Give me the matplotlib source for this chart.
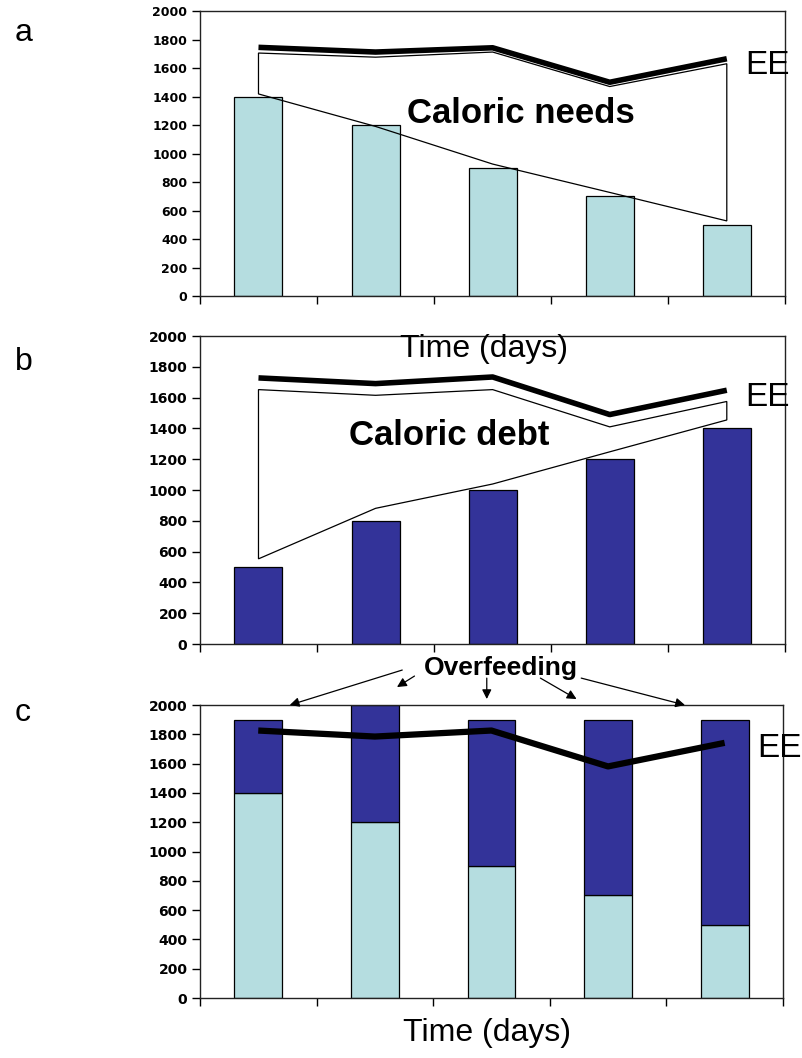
import matplotlib
matplotlib.use("Agg")
import matplotlib.pyplot as plt
from matplotlib.patches import Polygon
import numpy as np

plt.rcParams['font.family'] = ['Liberation Sans', 'DejaVu Sans']

# data
days = np.arange(5)
intake_a = [1400, 1200, 900, 700, 500]          # panel a bars (light)
ee_a = [1745, 1712, 1742, 1500, 1665]           # thick EE line
needs_top_a = [1705, 1676, 1712, 1470, 1630]    # outline of "caloric needs"
needs_bot_a = [1418, 1190, 926, 727, 527]

intake_b = [500, 800, 1000, 1200, 1400]         # panel b bars (dark)
ee_b = [1728, 1691, 1734, 1490, 1648]
debt_top_b = [1652, 1615, 1652, 1410, 1575]
debt_bot_b = [553, 881, 1039, 1248, 1455]

base_c = [1400, 1200, 900, 700, 500]            # panel c stacked bars
extra_c = [500, 800, 1000, 1200, 1400]
ee_c = [1826, 1785, 1826, 1581, 1742]

yticks = [0, 200, 400, 600, 800, 1000, 1200, 1400, 1600, 1800, 2000]
light = '#b5dde0'
navy = '#333399'

fig = plt.figure(figsize=(8.03, 10.58), dpi=100)
fig.patch.set_facecolor('white')
ax_a = fig.add_axes([0.249, 0.7202, 0.729, 0.2694])
ax_b = fig.add_axes([0.249, 0.3913, 0.729, 0.2911])
ax_c = fig.add_axes([0.249, 0.0567, 0.726, 0.2769])


def style(ax, size):
    ax.set_xlim(-0.5, 4.5)
    ax.set_ylim(0, 2000)
    ax.set_yticks(yticks)
    ax.set_yticklabels([str(v) for v in yticks], fontsize=size,
                       fontweight='bold', family='DejaVu Sans')
    ax.set_xticks(np.arange(-0.5, 5, 1))
    ax.set_xticklabels([])
    ax.tick_params(direction='out', length=6, width=1, pad=3)
    for s in ax.spines.values():
        s.set_linewidth(1.0)
        s.set_color('#222222')


# panel a
ax_a.bar(days, intake_a, width=0.41, color=light, edgecolor='black', lw=0.9, zorder=2)
pts = list(zip(days, needs_top_a)) + list(zip(days[::-1], needs_bot_a[::-1]))
ax_a.add_patch(Polygon(pts, closed=True, fill=False, ec='black', lw=0.9, zorder=3))
ax_a.plot(days, ee_a, color='black', lw=4, zorder=4, solid_capstyle='butt')
style(ax_a, 9)
ax_a.text(2.24, 1284, 'Caloric needs', fontsize=25, fontweight='bold', ha='center', va='center')
ax_a.text(4.16, 1621, 'EE', fontsize=24, ha='left', va='center', zorder=5)

# panel b
ax_b.bar(days, intake_b, width=0.41, color=navy, edgecolor='black', lw=0.9, zorder=2)
pts = list(zip(days, debt_top_b)) + list(zip(days[::-1], debt_bot_b[::-1]))
ax_b.add_patch(Polygon(pts, closed=True, fill=False, ec='black', lw=0.9, zorder=3))
ax_b.plot(days, ee_b, color='black', lw=4, zorder=4, solid_capstyle='butt')
style(ax_b, 10)
ax_b.text(1.63, 1357, 'Caloric debt', fontsize=25, fontweight='bold', ha='center', va='center')
ax_b.text(1.93, 1916, 'Time (days)', fontsize=23, ha='center', va='center')
ax_b.text(4.16, 1600, 'EE', fontsize=24, ha='left', va='center', zorder=5)

# panel c
ax_c.bar(days, base_c, width=0.41, color=light, edgecolor='black', lw=0.9, zorder=2)
ax_c.bar(days, extra_c, bottom=base_c, width=0.41, color=navy, edgecolor='black', lw=0.9, zorder=2)
ax_c.plot(days, ee_c, color='black', lw=4.5, zorder=4, solid_capstyle='butt')
style(ax_c, 10)
ax_c.text(4.28, 1706, 'EE', fontsize=24, ha='left', va='center', zorder=5)

ax_c.text(2.08, 2253, 'Overfeeding', fontsize=19, fontweight='bold',
          ha='center', va='center', clip_on=False)
arrows = [((1.235, 2239), (0.27, 2000)),
          ((1.34, 2198), (1.19, 2123)),
          ((1.96, 2184), (1.96, 2041)),
          ((2.42, 2184), (2.73, 2041)),
          ((2.77, 2184), (3.66, 2000))]
for start, end in arrows:
    ax_c.annotate('', xy=end, xytext=start, annotation_clip=False,
                  arrowprops=dict(arrowstyle='-|>', color='black', lw=0.9,
                                  mutation_scale=14, shrinkA=0, shrinkB=0))

fig.text(487 / 803, 1 - 1033 / 1058, 'Time (days)', fontsize=23, ha='center', va='center')
fig.text(15 / 803, 1 - 33 / 1058, 'a', fontsize=23, ha='left', va='center')
fig.text(15 / 803, 1 - 362 / 1058, 'b', fontsize=23, ha='left', va='center')
fig.text(15 / 803, 1 - 713 / 1058, 'c', fontsize=23, ha='left', va='center')

fig.savefig('out.png', dpi=100, facecolor='white')
